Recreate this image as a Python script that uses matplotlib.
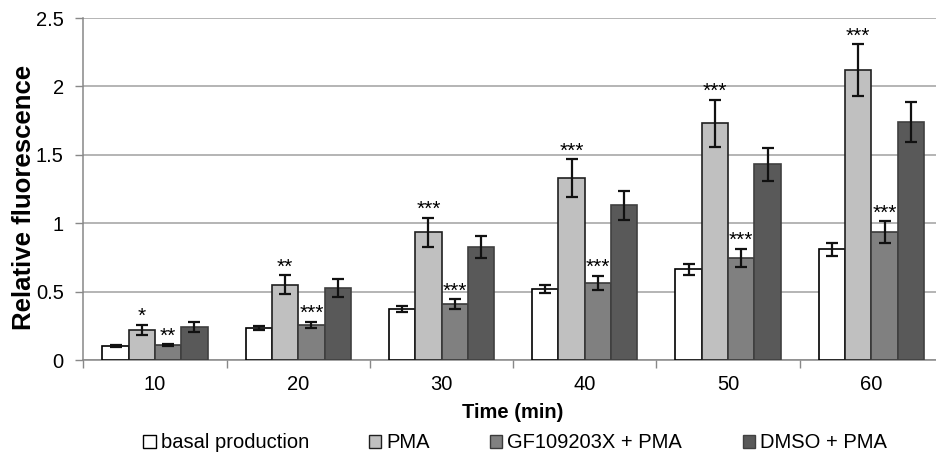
import numpy as np
import matplotlib
matplotlib.use("Agg")
import matplotlib.pyplot as plt
from matplotlib.patches import Patch

plt.rcParams['font.family'] = ['Liberation Sans', 'DejaVu Sans']

times = ["10", "20", "30", "40", "50", "60"]
series = ["basal production", "PMA", "GF109203X + PMA", "DMSO + PMA"]

basal = [0.102, 0.234, 0.373, 0.521, 0.663, 0.809]
basal_err = [0.008, 0.017, 0.024, 0.030, 0.041, 0.046]
pma = [0.222, 0.551, 0.933, 1.328, 1.730, 2.117]
pma_err = [0.037, 0.070, 0.106, 0.140, 0.172, 0.190]
gf = [0.107, 0.256, 0.409, 0.565, 0.748, 0.936]
gf_err = [0.008, 0.024, 0.037, 0.050, 0.065, 0.080]
dmso = [0.241, 0.526, 0.826, 1.131, 1.430, 1.740]
dmso_err = [0.039, 0.065, 0.084, 0.106, 0.123, 0.146]

pma_stars = ["*", "**", "***", "***", "***", "***"]
gf_stars = ["**", "***", "***", "***", "***", "***"]

fills = ["#ffffff", "#c0c0c0", "#808080", "#595959"]
edges = ["#000000", "#202020", "#3a3a3a", "#404040"]

fig = plt.figure(figsize=(9.36, 4.63), dpi=100)
ax = fig.add_axes([83.3 / 936, 103 / 463, 859.7 / 936, 342 / 463])

x = np.arange(len(times))
w = 0.1835
vals = [basal, pma, gf, dmso]
errs = [basal_err, pma_err, gf_err, dmso_err]
for i in range(4):
    pos = x + (i - 1.5) * w
    ax.bar(pos, vals[i], w, color=fills[i], edgecolor=edges[i], linewidth=1.2, zorder=3,
           yerr=errs[i], error_kw=dict(ecolor="#111111", elinewidth=1.6, capsize=4.5, capthick=1.6, zorder=4))

for j in range(len(times)):
    ax.annotate(pma_stars[j], (x[j] - 0.5 * w, pma[j] + pma_err[j]), xytext=(0, -1),
                textcoords="offset points", ha="center", va="bottom", fontsize=15, zorder=5)
    ax.annotate(gf_stars[j], (x[j] + 0.5 * w, gf[j] + gf_err[j]), xytext=(0, -1),
                textcoords="offset points", ha="center", va="bottom", fontsize=15, zorder=5)

ax.set_xlim(-0.5, 5.5)
ax.set_ylim(0, 2.5)
ax.set_yticks([0, 0.5, 1, 1.5, 2, 2.5])
ax.set_yticklabels(["0", "0.5", "1", "1.5", "2", "2.5"])
ax.set_xticks(x)
ax.set_xticklabels(times)
ax.set_xticks(np.arange(-0.5, 5.6, 1), minor=True)
ax.tick_params(axis="x", which="major", length=0, labelsize=14.5, pad=11)
ax.tick_params(axis="x", which="minor", length=6, color="#888888", width=1)
ax.tick_params(axis="y", length=6, color="#888888", width=1, labelsize=14.5, pad=8)
ax.yaxis.grid(True, color="#a0a0a0", linewidth=1.1, zorder=0)
ax.set_axisbelow(True)
for s in ["top", "right"]:
    ax.spines[s].set_visible(False)
for s in ["left", "bottom"]:
    ax.spines[s].set_color("#888888")
    ax.spines[s].set_linewidth(1.1)

ax.set_ylabel("Relative fluorescence", fontsize=18.5, fontweight="bold")
ax.yaxis.set_label_coords(-0.055, 0.474)
ax.set_xlabel("Time (min)", fontsize=14.5, fontweight="bold", labelpad=6)

handles = [Patch(facecolor=fills[i], edgecolor=edges[i], linewidth=1.0) for i in range(4)]
fig.legend(handles, series, loc="center", bbox_to_anchor=(515 / 936, 1 - 443 / 463), ncol=4,
           frameon=False, fontsize=14.5, handlelength=0.6, handleheight=0.6, handletextpad=0.25,
           columnspacing=3.0)

fig.savefig("out.png", dpi=100)
